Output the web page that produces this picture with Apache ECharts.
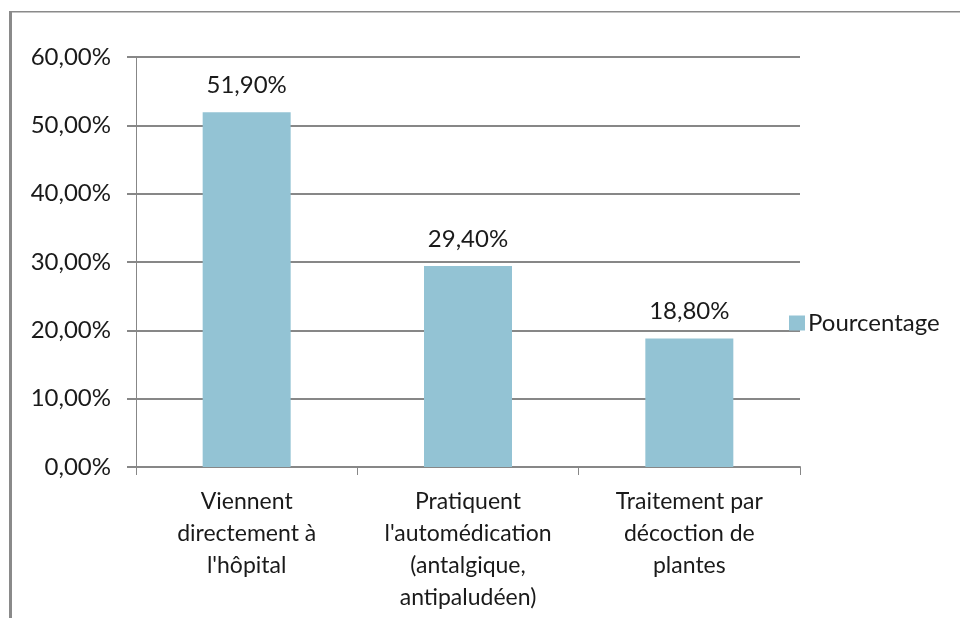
<!DOCTYPE html>
<html>
<head>
<meta charset="utf-8">
<script src="https://cdn.jsdelivr.net/npm/echarts@6/dist/echarts.min.js"></script>
<style>
  html, body { margin: 0; padding: 0; background: #fff; }
  #chart { width: 960px; height: 618px; }
</style>
</head>
<body>
<div id="chart"></div>
<script>
// data
const categories = [
  "Viennent\ndirectement à\nl'hôpital",
  "Pratiquent\nl'automédication\n(antalgique,\nantipaludéen)",
  "Traitement par\ndécoction de\nplantes"
];
const seriesName = "Pourcentage";
const values = [51.9, 29.4, 18.8];
const yTicks = [0, 10, 20, 30, 40, 50, 60];

const FONT = "Lato";
const GRID_GRAY = "#878787";
const fmt = (v) => v.toFixed(2).replace(".", ",") + "%";

const chart = echarts.init(document.getElementById("chart"));
chart.setOption({
  backgroundColor: "#fff",
  animation: false,
  textStyle: { fontFamily: FONT },
  grid: { left: 136, right: 160, top: 57, bottom: 151, containLabel: false },
  legend: {
    data: [seriesName],
    left: 784,
    top: 306,
    itemWidth: 16,
    itemHeight: 15,
    itemGap: 6,
    icon: "rect",
    textStyle: { fontFamily: FONT, fontSize: 24, color: "#1a1a1a", padding: [0, 0, 0, -2] }
  },
  xAxis: {
    type: "category",
    data: categories,
    axisLine: { lineStyle: { color: GRID_GRAY, width: 2 } },
    axisTick: { show: true, length: 8, lineStyle: { color: GRID_GRAY, width: 1 } },
    axisLabel: {
      interval: 0,
      margin: 19,
      fontFamily: FONT,
      fontSize: 23,
      lineHeight: 32,
      color: "#1a1a1a",
      align: "center"
    }
  },
  yAxis: {
    type: "value",
    min: yTicks[0],
    max: yTicks[yTicks.length - 1],
    interval: 10,
    axisLine: { show: true, lineStyle: { color: GRID_GRAY, width: 1 } },
    axisTick: { show: true, length: 9, lineStyle: { color: GRID_GRAY, width: 2 } },
    splitLine: { lineStyle: { color: GRID_GRAY, width: 2 } },
    axisLabel: {
      margin: 25,
      fontFamily: FONT,
      fontSize: 24,
      color: "#1a1a1a",
      formatter: (v) => fmt(v)
    }
  },
  series: [{
    name: seriesName,
    type: "bar",
    data: values,
    barWidth: 88,
    itemStyle: { color: "#93C3D4" },
    label: {
      show: true,
      position: "top",
      distance: 15,
      fontFamily: FONT,
      fontSize: 24,
      color: "#1a1a1a",
      formatter: (p) => fmt(p.value)
    }
  }],
  graphic: [
    { type: "rect", shape: { x: 9, y: 11, width: 3, height: 607 }, style: { fill: "#8a8a8a" }, silent: true },
    { type: "rect", shape: { x: 9, y: 11, width: 951, height: 1.5 }, style: { fill: "#8a8a8a" }, silent: true }
  ]
});
</script>
</body>
</html>
